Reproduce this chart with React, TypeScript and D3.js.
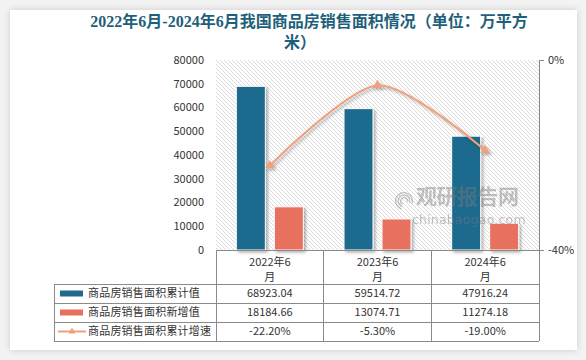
import { useEffect, useRef } from "react";
import * as d3 from "d3";

// Chart values
const categories = ["2022年6月", "2023年6月", "2024年6月"];
const headerLines = [["2022年6", "月"], ["2023年6", "月"], ["2024年6", "月"]];
const cumulativeArea = [68923.04, 59514.72, 47916.24];
const newArea = [18184.66, 13074.71, 11274.18];
const growthRate = [-22.2, -5.3, -19.0];
const leftTicks = [0, 10000, 20000, 30000, 40000, 50000, 60000, 70000, 80000];
const rightTicks = [0, -40];
const seriesNames = ["商品房销售面积累计值", "商品房销售面积新增值", "商品房销售面积累计增速"];

const W = 586;
const H = 360;
const BLUE = "#1f6a8e";
const RED = "#e8705e";
const LINE = "#f0a07c";
const FONT = "'Noto Sans CJK SC', 'Noto Sans', sans-serif";

export default function App() {
  const svgRef = useRef<SVGSVGElement | null>(null);

  useEffect(() => {
    const svg = d3.select(svgRef.current).attr("width", W).attr("height", H);
    svg.selectAll("*").remove();

    // plot box
    const left = 216, right = 539, top = 60, bottom = 250;

    const defs = svg.append("defs");
    const hatch = defs.append("pattern")
      .attr("id", "hatch")
      .attr("patternUnits", "userSpaceOnUse")
      .attr("width", 4).attr("height", 4);
    hatch.append("rect").attr("width", 4).attr("height", 4).attr("fill", "#fff");
    hatch.append("path").attr("d", "M0,0L4,4M-1,3L1,5M3,-1L5,1")
      .attr("stroke", "#dadada").attr("stroke-width", 1);

    const shadow = defs.append("filter").attr("id", "shadow")
      .attr("x", "-30%").attr("y", "-30%").attr("width", "160%").attr("height", "160%");
    shadow.append("feDropShadow").attr("dx", 2).attr("dy", 2).attr("stdDeviation", 1.5)
      .attr("flood-color", "#000").attr("flood-opacity", 0.3);

    const cardShadow = defs.append("filter").attr("id", "cardShadow")
      .attr("x", "-5%").attr("y", "-5%").attr("width", "110%").attr("height", "110%");
    cardShadow.append("feDropShadow").attr("dx", 0).attr("dy", 0).attr("stdDeviation", 3)
      .attr("flood-color", "#000").attr("flood-opacity", 0.18);

    // background + card
    svg.append("rect").attr("width", W).attr("height", H).attr("fill", "#f3f3f3");
    svg.append("rect").attr("x", 10).attr("y", 10).attr("width", 567).attr("height", 340)
      .attr("fill", "#fff").attr("filter", "url(#cardShadow)");

    // title
    const title = svg.append("text")
      .attr("text-anchor", "middle")
      .attr("fill", "#1e5f7b")
      .attr("font-family", "'Liberation Serif', 'Noto Sans CJK SC', serif")
      .attr("font-weight", "bold")
      .attr("font-size", 16);
    title.append("tspan").attr("x", 309).attr("y", 27)
      .text("2022年6月-2024年6月我国商品房销售面积情况（单位：万平方");
    title.append("tspan").attr("x", 300).attr("y", 48).text("米）");

    // scales
    const x = d3.scaleBand().domain(categories).range([left, right]);
    const inner = d3.scaleBand().domain(["cum", "new"]).range([-33.5, 33.5])
      .paddingInner(9 / 38).paddingOuter(0);
    const y = d3.scaleLinear().domain([0, 80000]).range([bottom, top]);
    const yR = d3.scaleLinear().domain([-40, 0]).range([bottom, top]);
    const cx = (c: string) => (x(c) ?? 0) + x.bandwidth() / 2;

    svg.append("rect").attr("x", left).attr("y", top)
      .attr("width", right - left).attr("height", bottom - top)
      .attr("fill", "url(#hatch)");

    // left tick labels
    svg.append("g").selectAll("text").data(leftTicks).join("text")
      .attr("x", 204).attr("y", (d) => y(d)).attr("dy", "0.35em")
      .attr("text-anchor", "end").attr("font-family", FONT).attr("font-size", 11)
      .attr("fill", "#333").text((d) => String(d));

    // right axis
    const rAxis = svg.append("g").attr("transform", `translate(${right},0)`)
      .call(d3.axisRight(yR).tickValues(rightTicks).tickSize(5).tickFormat((d) => `${d}%`));
    rAxis.select(".domain").attr("stroke", "#888");
    rAxis.selectAll(".tick line").attr("stroke", "#888");
    rAxis.selectAll(".tick text").attr("font-family", FONT).attr("font-size", 11)
      .attr("fill", "#333").attr("x", 9);

    // bars
    const bars = svg.append("g").attr("filter", "url(#shadow)");
    bars.selectAll(".b-cum").data(cumulativeArea).join("rect")
      .attr("class", "b-cum")
      .attr("x", (_, i) => cx(categories[i]) + (inner("cum") ?? 0))
      .attr("y", (d) => y(d)).attr("width", inner.bandwidth())
      .attr("height", (d) => bottom - y(d))
      .attr("fill", BLUE).attr("stroke", "#fff").attr("stroke-width", 1);
    bars.selectAll(".b-new").data(newArea).join("rect")
      .attr("class", "b-new")
      .attr("x", (_, i) => cx(categories[i]) + (inner("new") ?? 0))
      .attr("y", (d) => y(d)).attr("width", inner.bandwidth())
      .attr("height", (d) => bottom - y(d))
      .attr("fill", RED).attr("stroke", "#fff").attr("stroke-width", 1);

    // watermark
    const wm = svg.append("g").attr("opacity", 0.45).attr("fill", "#7a7a7a");
    wm.append("text").attr("x", 416).attr("y", 204).attr("font-family", FONT)
      .attr("font-weight", "bold").attr("font-size", 21).attr("letter-spacing", -0.5)
      .text("观研报告网");
    wm.append("text").attr("x", 412).attr("y", 224).attr("font-family", "'DejaVu Sans', sans-serif")
      .attr("font-size", 12.5).attr("letter-spacing", 0.2).text("chinabaogao.com");
    [9, 6.5, 4].forEach((r) => {
      wm.append("path")
        .attr("d", d3.arc()({ innerRadius: r - 1.3, outerRadius: r, startAngle: -Math.PI * 0.9, endAngle: Math.PI * 0.6 }) as string)
        .attr("transform", "translate(404,201)");
    });

    // line
    const pts = growthRate.map((v, i) => [cx(categories[i]), yR(v)] as [number, number]);
    const lg = svg.append("g").attr("filter", "url(#shadow)");
    lg.append("path").attr("d", d3.line().curve(d3.curveCardinal.tension(0.2))(pts))
      .attr("fill", "none").attr("stroke", LINE).attr("stroke-width", 2);
    const tri = d3.symbol().type(d3.symbolTriangle).size(40);
    lg.selectAll(".m").data(pts).join("path").attr("class", "m")
      .attr("transform", (d) => `translate(${d[0]},${d[1]})`)
      .attr("d", tri() as string).attr("fill", LINE);

    // data table
    const rowY = [284, 303, 322, 341];
    const tbl = svg.append("g").attr("stroke", "#8a8a8a").attr("stroke-width", 1)
      .attr("shape-rendering", "crispEdges");
    tbl.append("line").attr("x1", left).attr("x2", right + 5).attr("y1", bottom).attr("y2", bottom);
    [left, x(categories[1])!, x(categories[2])!, right].forEach((xx) => {
      tbl.append("line").attr("x1", xx).attr("x2", xx).attr("y1", bottom).attr("y2", rowY[3]);
    });
    rowY.forEach((yy) => {
      tbl.append("line").attr("x1", 54).attr("x2", right).attr("y1", yy).attr("y2", yy);
    });
    tbl.append("line").attr("x1", 54).attr("x2", 54).attr("y1", rowY[0]).attr("y2", rowY[3]);

    // header labels
    const head = svg.append("g").attr("font-family", FONT).attr("font-size", 11)
      .attr("fill", "#333").attr("text-anchor", "middle");
    headerLines.forEach((lines, i) => {
      head.append("text").attr("x", cx(categories[i])).attr("y", 262).attr("dy", "0.35em").text(lines[0]);
      head.append("text").attr("x", cx(categories[i])).attr("y", 277).attr("dy", "0.35em").text(lines[1]);
    });

    // row values
    const rows = [
      cumulativeArea.map((v) => v.toFixed(2)),
      newArea.map((v) => v.toFixed(2)),
      growthRate.map((v) => `${v.toFixed(2)}%`),
    ];
    rows.forEach((vals, r) => {
      const ym = (rowY[r] + rowY[r + 1]) / 2;
      vals.forEach((v, i) => {
        head.append("text").attr("x", cx(categories[i])).attr("y", ym).attr("dy", "0.35em").text(v);
      });
      // legend key
      if (r < 2) {
        svg.append("rect").attr("x", 60).attr("y", ym - 3).attr("width", 23).attr("height", 6)
          .attr("fill", r === 0 ? BLUE : RED);
      } else {
        svg.append("line").attr("x1", 58).attr("x2", 86).attr("y1", ym).attr("y2", ym)
          .attr("stroke", LINE).attr("stroke-width", 2);
        svg.append("path").attr("transform", `translate(72,${ym})`)
          .attr("d", d3.symbol().type(d3.symbolTriangle).size(22)() as string).attr("fill", LINE);
      }
      svg.append("text").attr("x", 88).attr("y", ym).attr("dy", "0.35em")
        .attr("font-family", FONT).attr("font-size", 11).attr("letter-spacing", 0.2)
        .attr("fill", "#333").text(seriesNames[r]);
    });
  }, []);

  return (
    <svg ref={svgRef} style={{ position: "absolute", left: 0, top: 0, display: "block" }} />
  );
}
